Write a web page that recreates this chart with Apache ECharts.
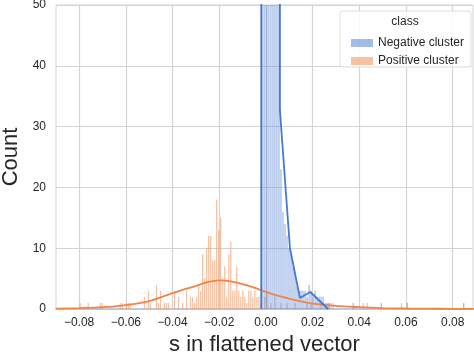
<!DOCTYPE html>
<html>
<head>
<meta charset="utf-8">
<script src="https://cdn.jsdelivr.net/npm/echarts@6/dist/echarts.min.js"></script>
<style>
  html, body { margin: 0; padding: 0; background: #fff; }
  #chart { width: 474px; height: 360px; }
</style>
</head>
<body>
<div id="chart"></div>
<script>
// histogram bins (seaborn auto bins, ~200 over the data range)
var binStart = -0.086;
var binWidth = 0.00086;

// Negative cluster: bin index -> count (spike bins go far above the 50 limit)
var negBins = [98, 99, 100, 101, 102, 103, 104, 105, 106, 107, 108, 109, 110, 111, 112, 113, 114, 115, 116, 117, 118, 119, 120, 121, 122, 123, 124, 125, 126, 127, 128, 129, 130, 131, 143, 157, 170, 198];
var negCounts = [210, 260, 240, 230, 220, 200, 180, 160, 120, 23, 16, 14, 12, 10, 9, 7, 6, 4, 3, 3, 3, 3, 2, 4, 3, 2, 3, 2, 2, 2, 2, 1, 1, 1, 1, 1, 1, 1];

// Positive cluster: bin index -> count
var posBins = [7, 11, 17, 18, 27, 28, 30, 31, 32, 39, 41, 42, 45, 46, 47, 49, 50, 51, 54, 56, 58, 60, 62, 63, 64, 65, 66, 67, 68, 69, 70, 71, 72, 73, 74, 75, 76, 77, 78, 79, 80, 81, 82, 83, 84, 85, 86, 87, 88, 89, 90, 91, 92, 93, 94, 95, 96, 97, 99, 100, 102, 104, 107, 110, 114, 120, 122, 127, 131, 132, 133, 148, 150, 167];
var posCounts = [1, 1, 1, 1, 1, 1, 1, 1, 1, 2, 3, 1, 4, 1, 3, 1, 1, 1, 3, 2, 1, 3, 2, 2, 1, 2, 4, 3, 9, 5, 10, 12, 12, 8, 8, 18, 13, 15, 5, 7, 2, 9, 11, 3, 3, 7, 3, 2, 3, 2, 1, 3, 3, 2, 3, 2, 2, 1, 2, 3, 1, 2, 1, 1, 1, 1, 1, 1, 1, 1, 1, 1, 1, 1];

// KDE curves
var negKdeX = [-0.0020, -0.0018, 0.0059, 0.0060, 0.0103, 0.0146, 0.0190, 0.0266];
var negKdeY = [0, 420, 420, 32.7, 10, 1.8, 2.8, 0];
var posKdeX = [-0.09, -0.08, -0.07, -0.06, -0.05, -0.04, -0.03, -0.025, -0.02, -0.015, -0.01, -0.005, 0, 0.005, 0.01, 0.015, 0.02, 0.03, 0.04, 0.05, 0.06, 0.07, 0.08, 0.09];
var posKdeY = [0.05, 0.15, 0.3, 0.65, 1.3, 2.6, 3.8, 4.4, 4.7, 4.55, 4.1, 3.5, 2.8, 2.2, 1.7, 1.25, 0.9, 0.5, 0.3, 0.15, 0.08, 0.05, 0.03, 0.02];

var xTicks = [-0.08, -0.06, -0.04, -0.02, 0, 0.02, 0.04, 0.06, 0.08];

var FONT = '"Liberation Sans", Arial, sans-serif';

function binData(bins, counts) {
  return bins.map(function (b, i) {
    var x0 = binStart + b * binWidth;
    return [x0, x0 + binWidth, counts[i]];
  });
}
function pairs(xs, ys) {
  return xs.map(function (x, i) { return [x, ys[i]]; });
}
function renderBar(params, api) {
  var p0 = api.coord([api.value(0), 0]);
  var p1 = api.coord([api.value(1), api.value(2)]);
  var w = p1[0] - p0[0];
  // leave a white gap between neighbouring bins, like the bar edges
  return {
    type: 'rect',
    shape: { x: p0[0] + w * 0.18, y: p1[1], width: w * 0.64, height: p0[1] - p1[1] },
    style: api.style()
  };
}

var chart = echarts.init(document.getElementById('chart'));
chart.setOption({
  animation: false,
  backgroundColor: '#fff',
  grid: {
    left: 56, right: 1, top: 5, bottom: 51,
    outerBoundsMode: 'none',
    show: true, borderColor: '#d4d4d4', borderWidth: 1
  },
  xAxis: {
    type: 'value',
    min: -0.0899,
    max: 0.0887,
    name: 's in flattened vector',
    nameLocation: 'middle',
    nameGap: 22,
    nameTextStyle: { fontSize: 22, color: '#262626', fontFamily: FONT },
    axisLine: { show: true, lineStyle: { color: '#b4bfd9', width: 1.5 } },
    axisTick: { show: false, customValues: xTicks },
    axisLabel: {
      customValues: xTicks,
      margin: 8,
      fontSize: 12,
      color: '#262626',
      fontFamily: FONT,
      formatter: function (v) { return v.toFixed(2).replace('-', '\u2212'); }
    },
    splitLine: { show: true, lineStyle: { color: '#d4d4d4', width: 1.2 } }
  },
  yAxis: {
    type: 'value',
    min: 0,
    max: 50,
    interval: 10,
    name: 'Count',
    nameLocation: 'middle',
    nameGap: 30,
    nameTextStyle: { fontSize: 22, color: '#262626', fontFamily: FONT },
    axisLine: { show: false },
    axisTick: { show: false },
    axisLabel: { margin: 10, fontSize: 12, color: '#262626', fontFamily: FONT },
    splitLine: { show: true, lineStyle: { color: '#d4d4d4', width: 1.2 } }
  },
  legend: {
    data: ['Negative cluster', 'Positive cluster'],
    orient: 'vertical',
    left: 346,
    top: 32,
    itemWidth: 22,
    itemHeight: 8,
    itemGap: 6,
    icon: 'rect',
    selectedMode: false,
    z: 10,
    textStyle: { fontSize: 12, color: '#262626', fontFamily: FONT }
  },
  graphic: [
    {
      type: 'rect', z: 9,
      shape: { x: 340, y: 11, width: 131, height: 56, r: 3 },
      style: { fill: 'rgba(255,255,255,0.85)', stroke: '#dcdcdc', lineWidth: 1 }
    },
    {
      type: 'text', z: 10,
      style: { x: 405, y: 22, text: 'class', textAlign: 'center', textVerticalAlign: 'middle', fontSize: 12, fill: '#262626', fontFamily: FONT }
    }
  ],
  series: [
    {
      name: 'Positive cluster',
      type: 'custom',
      renderItem: renderBar,
      clip: true,
      itemStyle: { color: 'rgba(238,133,74,0.5)' },
      encode: { x: [0, 1], y: 2 },
      data: binData(posBins, posCounts)
    },
    {
      name: 'Negative cluster',
      type: 'custom',
      renderItem: renderBar,
      clip: true,
      itemStyle: { color: 'rgba(72,120,208,0.5)' },
      encode: { x: [0, 1], y: 2 },
      data: binData(negBins, negCounts)
    },
    {
      name: 'Positive KDE',
      type: 'line',
      showSymbol: false,
      smooth: 0.3,
      clip: true,
      lineStyle: { color: '#ee854a', width: 1.8 },
      itemStyle: { color: '#ee854a' },
      data: pairs(posKdeX, posKdeY)
    },
    {
      name: 'Negative KDE',
      type: 'line',
      showSymbol: false,
      clip: true,
      lineStyle: { color: '#4878d0', width: 1.8 },
      itemStyle: { color: '#4878d0' },
      data: pairs(negKdeX, negKdeY)
    }
  ]
});
</script>
</body>
</html>
